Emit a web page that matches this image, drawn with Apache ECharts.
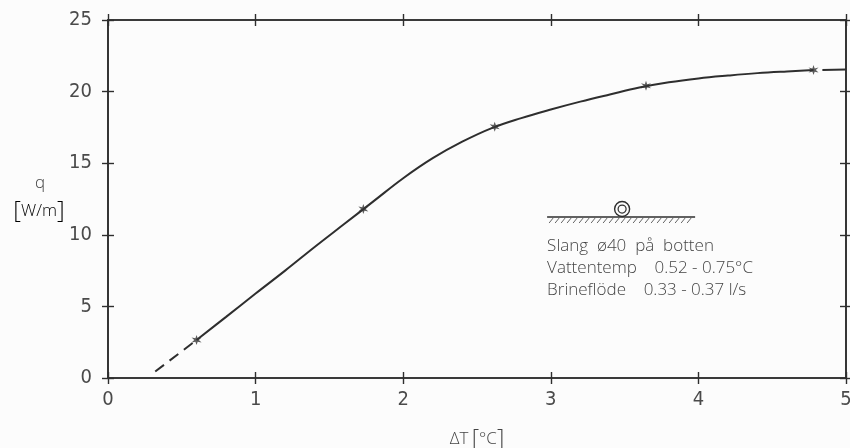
<!DOCTYPE html>
<html>
<head>
<meta charset="utf-8">
<script src="https://cdn.jsdelivr.net/npm/echarts@6/dist/echarts.min.js"></script>
<style>
  html, body { margin: 0; padding: 0; background: #fcfcfc; overflow: hidden; }
  #chart { width: 850px; height: 448px; }
</style>
</head>
<body>
<div id="chart"></div>
<script>
// Measured heat flux q [W/m] against temperature difference ΔT [°C]
const measuredDT = [0.6, 1.73, 2.62, 3.645, 4.78];
const measuredQ  = [2.65, 11.8, 17.55, 20.4, 21.5];

// Fitted curve through the measurements
const curveDT = [0.6, 0.8, 1.0, 1.2, 1.4, 1.6, 1.8, 2.0, 2.2, 2.4, 2.6, 2.8, 3.0, 3.2, 3.4, 3.6, 3.8, 4.0, 4.2, 4.4, 4.6, 4.78];
const curveQ  = [2.65, 4.27, 5.9, 7.5, 9.15, 10.75, 12.35, 13.95, 15.35, 16.5, 17.45, 18.15, 18.75, 19.3, 19.8, 20.28, 20.65, 20.92, 21.12, 21.29, 21.41, 21.5];

// Extrapolated parts of the curve
const extrapLowDT = [0.32, 0.6];
const extrapLowQ  = [0.45, 2.65];
const tailDT = [4.84, 5.0];
const tailQ  = [21.5, 21.55];

const xTicks = [0, 1, 2, 3, 4, 5];
const yTicks = [0, 5, 10, 15, 20, 25];

const legendLines = [
  'Slang  \u00f840  p\u00e5  botten',
  'Vattentemp    0.52 - 0.75\u00b0C',
  'Brinefl\u00f6de    0.33 - 0.37 l/s'
];

const ink = '#2e2e2e';
const textInk = '#444444';
const font = '"Open Sans", "DejaVu Sans", sans-serif';
const numFont = '"Liberation Sans Narrow", "DejaVu Sans Condensed", sans-serif';

const pair = (xs, ys) => xs.map((x, i) => [x, ys[i]]);
const starPath = 'path://M0,-10 L2,-3.46 L8.66,-5 L4,0 L8.66,5 L2,3.46 L0,10 L-2,3.46 L-8.66,5 L-4,0 L-8.66,-5 L-2,-3.46 Z';

function xAxisDef(position, inside, showLabel) {
  return {
    type: 'value', position: position, min: 0, max: 5, interval: 1,
    axisLine: { show: true, onZero: false, lineStyle: { color: ink, width: 1.6 } },
    axisTick: { show: true, inside: inside, length: 6, lineStyle: { color: ink, width: 1.4 } },
    axisLabel: {
      show: showLabel, margin: 12, color: '#4a4a4a', fontFamily: numFont, fontSize: 20,
      formatter: v => xTicks.includes(v) ? String(v) : ''
    },
    splitLine: { show: false },
    name: showLabel ? '{t|\u0394T} {b|[}{t|\u00b0C}{b|]}' : '',
    nameLocation: 'middle', nameGap: 50,
    nameTextStyle: {
      rich: {
        t: { fontFamily: font, fontSize: 17, fontWeight: 300, color: textInk },
        b: { fontFamily: font, fontSize: 23, fontWeight: 200, color: textInk }
      }
    }
  };
}

function yAxisDef(position, inside, showLabel) {
  return {
    type: 'value', position: position, min: 0, max: 25, interval: 5,
    axisLine: { show: true, onZero: false, lineStyle: { color: ink, width: 1.6 } },
    axisTick: { show: true, inside: inside, length: 6, lineStyle: { color: ink, width: 1.4 } },
    axisLabel: {
      show: showLabel, margin: 16, color: '#4a4a4a', fontFamily: numFont, fontSize: 20,
      formatter: v => yTicks.includes(v) ? String(v) : ''
    },
    splitLine: { show: false }
  };
}

const chart = echarts.init(document.getElementById('chart'), null, { renderer: 'canvas', width: 850, height: 448 });

// Test-setup sketch (hose lying on the bottom) plus its caption
function noteGroup() {
  const lineLen = 148;
  const children = [
    { type: 'line', shape: { x1: 0, y1: 0, x2: lineLen, y2: 0 }, style: { stroke: ink, lineWidth: 1.4 } },
    { type: 'circle', shape: { cx: 75, cy: -8, r: 7.5 }, style: { stroke: ink, lineWidth: 1.4, fill: 'transparent' } },
    { type: 'circle', shape: { cx: 75, cy: -8, r: 4 }, style: { stroke: ink, lineWidth: 1.2, fill: 'transparent' } }
  ];
  for (let x = 2; x < lineLen - 2; x += 6) {
    children.push({ type: 'line', shape: { x1: x, y1: 6, x2: x + 4, y2: 1 }, style: { stroke: '#666', lineWidth: 1 } });
  }
  legendLines.forEach((t, i) => {
    children.push({
      type: 'text', x: 0, y: 29 + i * 22,
      style: {
        text: t, fill: textInk, font: '300 17px ' + font,
        textAlign: 'left', textVerticalAlign: 'middle'
      }
    });
  });
  return children;
}

chart.setOption({
  animation: false,
  backgroundColor: '#fcfcfc',
  grid: { left: 108, right: 4, top: 20, bottom: 70, containLabel: false, outerBoundsMode: 'none' },
  xAxis: [
    xAxisDef('bottom', true, true),
    xAxisDef('bottom', false, false),
    xAxisDef('top', true, false),
    xAxisDef('top', false, false)
  ],
  yAxis: [
    yAxisDef('left', true, true),
    yAxisDef('left', false, false),
    yAxisDef('right', true, false),
    yAxisDef('right', false, false)
  ],
  series: [
    {
      type: 'line', data: pair(extrapLowDT, extrapLowQ), showSymbol: false,
      lineStyle: { color: ink, width: 2, type: [11, 7] }, silent: true
    },
    {
      type: 'line', data: pair(curveDT, curveQ), showSymbol: false, smooth: 0.4,
      lineStyle: { color: ink, width: 2 }, silent: true
    },
    {
      type: 'line', data: pair(tailDT, tailQ), showSymbol: false,
      lineStyle: { color: ink, width: 2 }, silent: true
    },
    {
      type: 'scatter', data: pair(measuredDT, measuredQ),
      symbol: starPath, symbolSize: 10,
      itemStyle: { color: '#333' }, silent: true, z: 5
    }
  ]
});

const anchor = chart.convertToPixel({ gridIndex: 0 }, [2.975, 11.24]);

chart.setOption({
  graphic: [
    { type: 'group', x: anchor[0], y: anchor[1], children: noteGroup(), silent: true },
    {
      type: 'text', x: 40, y: 183, silent: true,
      style: { text: 'q', fill: textInk, font: '300 17px ' + font, textAlign: 'center', textVerticalAlign: 'middle' }
    },
    {
      type: 'text', x: 39, y: 211, silent: true,
      style: {
        text: '{b|[}{t|W/m}{b|]}', textAlign: 'center', textVerticalAlign: 'middle',
        rich: {
          t: { fontFamily: font, fontSize: 17, fontWeight: 300, color: textInk },
          b: { fontFamily: font, fontSize: 24, fontWeight: 200, color: textInk }
        }
      }
    }
  ]
});
</script>
</body>
</html>
